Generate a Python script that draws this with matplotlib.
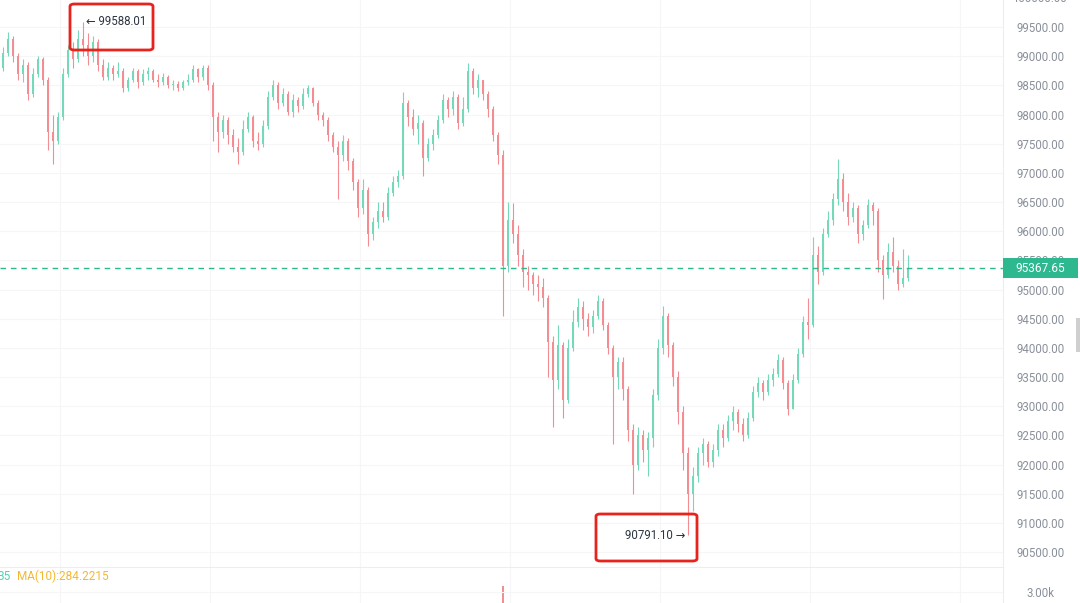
import numpy as np
import matplotlib
matplotlib.use("Agg")
import matplotlib.pyplot as plt
import matplotlib.transforms as mtransforms
from matplotlib.patches import FancyBboxPatch, Rectangle

plt.rcParams['font.family'] = ['Roboto', 'DejaVu Sans']

# ---- data ----
first_open = 98800
closes = [
    99050, 99300, 99000, 98700, 98850, 98350, 98700, 98950, 98600, 97700,
    97550, 97950, 98700, 99100, 98950, 99300, 99200, 99000, 99250, 98850,
    98650, 98800, 98700, 98750, 98450, 98600, 98750, 98550, 98700, 98750,
    98600, 98550, 98650, 98500, 98520, 98450, 98550, 98600, 98780, 98650,
    98800, 98500, 97950, 97700, 97900, 97650, 97450, 97350, 97750, 97950,
    97550, 97500, 97800, 98300, 98500, 98200, 98350, 98050, 98250, 98150,
    98350, 98450, 98200, 98000, 97900, 97650, 97450, 97300, 97550, 97200,
    96850, 96400, 96700, 95950, 96150, 96350, 96250, 96650, 96850, 96950,
    98200, 97950, 97750, 97850, 97250, 97500, 97650, 97900, 98250, 98100,
    98300, 97850, 98100, 98750, 98450, 98600, 98350, 98100, 97650, 97300,
    95400, 96200, 95950, 95600, 95300, 95250, 95100, 95050, 94850, 94100,
    93450, 94050, 93100, 94000, 94450, 94700, 94500, 94350, 94550, 94800,
    94400, 94000, 93500, 93750, 93300, 92600, 92000, 92500, 92250, 92450,
    93200, 94000, 94550, 94050, 93500, 92900, 92200, 91500, 91800, 92200,
    92350, 92050, 92250, 92600, 92450, 92750, 92900, 92700, 92500, 92800,
    93250, 93400, 93250, 93450, 93550, 93800, 93400, 92950, 93450, 93900,
    94450, 94400, 95600, 95300, 95950, 96200, 96550, 96900, 96500, 96250,
    96400, 95950, 96100, 96450, 96350, 95500, 95250, 95650, 95400, 95100,
    95200, 95367.65,
]
highs = [
    99150, 99420, 99350, 99050, 98950, 98900, 98800, 99000, 98980, 98650,
    98000, 98050, 98800, 99200, 99250, 99450, 99588.01, 99400, 99350, 99300,
    98950, 98900, 98850, 98900, 98800, 98650, 98800, 98780, 98780, 98820,
    98780, 98700, 98720, 98680, 98600, 98580, 98600, 98700, 98850, 98800,
    98850, 98850, 98550, 98050, 98000, 97950, 97750, 97600, 97900, 98050,
    98000, 97700, 97900, 98400, 98600, 98550, 98450, 98400, 98350, 98300,
    98450, 98500, 98480, 98250, 98050, 97950, 97700, 97550, 97650, 97600,
    97250, 96900, 96900, 96750, 96250, 96500, 96500, 96750, 96950, 97050,
    98380, 98250, 98100, 98000, 97900, 97600, 97750, 98000, 98350, 98300,
    98400, 98350, 98300, 98880, 98800, 98700, 98600, 98400, 98150, 97700,
    97400, 96500, 96480, 96100, 95700, 95400, 95300, 95250, 95200, 94900,
    94200, 94400, 94100, 94150, 94650, 94850, 94800, 94600, 94650, 94910,
    94850, 94450, 94050, 93850, 93850, 93350, 92700, 92650, 92600, 92550,
    93300, 94150, 94720, 94600, 94100, 93600, 93000, 92300, 91950, 92300,
    92450, 92400, 92350, 92700, 92700, 92850, 93000, 92950, 92800, 92900,
    93350, 93500, 93450, 93550, 93650, 93900, 93850, 93450, 93550, 94000,
    94550, 94850, 95900, 95750, 96050, 96350, 96650, 97230, 97000, 96650,
    96500, 96450, 96200, 96550, 96500, 96400, 95600, 95800, 95900, 95500,
    95700, 95600,
]
lows = [
    98750, 99000, 98900, 98600, 98550, 98250, 98300, 98650, 98500, 97400,
    97150, 97500, 97900, 98650, 98800, 98900, 99000, 98850, 98900, 98750,
    98600, 98600, 98600, 98650, 98380, 98400, 98550, 98450, 98500, 98600,
    98550, 98480, 98500, 98450, 98420, 98400, 98420, 98500, 98550, 98550,
    98600, 98420, 97550, 97350, 97600, 97500, 97350, 97150, 97300, 97700,
    97450, 97400, 97450, 97750, 98250, 98100, 98150, 98000, 97950, 98050,
    98100, 98300, 98150, 97900, 97800, 97550, 97350, 96550, 97200, 97050,
    96700, 96250, 96300, 95750, 95850, 96050, 96150, 96200, 96600, 96750,
    96900, 97800, 97650, 97500, 96950, 97200, 97400, 97600, 97850, 97950,
    98000, 97750, 97800, 98050, 98350, 98300, 98250, 97950, 97550, 97150,
    94550, 95300, 95800, 95400, 95050, 95000, 94900, 94800, 94700, 93500,
    92650, 93300, 92800, 93050, 93950, 94350, 94300, 94200, 94250, 94500,
    94300, 93900, 92350, 93300, 93100, 92400, 91500, 91900, 92050, 91800,
    92300, 93100, 93900, 93850, 93350, 92700, 91900, 90791.10, 91200, 91700,
    92000, 91950, 91950, 92150, 92300, 92400, 92600, 92550, 92400, 92450,
    92750, 93150, 93100, 93200, 93350, 93500, 93300, 92850, 92950, 93400,
    93850, 94150, 94350, 95100, 95250, 95900, 96100, 96450, 96350, 96100,
    96150, 95800, 95850, 96050, 96100, 95300, 94840, 95200, 95300, 95000,
    95050, 95150,
]
price_ticks = np.arange(90500, 99501, 500)
vol_index = [100]
vol_value = [3300]
ma_text = "MA(10):284.2215"

UP = '#74d8b9'
DOWN = '#f38d92'
GRID = '#f6f6f8'
LABEL = '#8a909a'

W, H = 1080, 603
fig = plt.figure(figsize=(W / 100, H / 100), dpi=100)

# price panel: pixel 0..1003 wide, 0..567 tall
ax = fig.add_axes([0, (H - 567) / H, 1003 / W, 567 / H])
closes_a = np.array(closes)
opens_a = np.array([first_open] + closes[:-1])
x = np.arange(len(closes))
up = closes_a >= opens_a
cols = np.where(up, UP, DOWN)

ax.vlines(x, lows, highs, colors=cols, lw=0.8, zorder=3)
body = np.maximum(np.abs(closes_a - opens_a), 20)
ax.bar(x, body, bottom=np.minimum(opens_a, closes_a), width=0.56,
       color=cols, lw=0, zorder=3)

ax.set_xlim(-0.6, 200)
ax.set_ylim(90244, 99963)
ax.set_xticks(np.arange(11.4, 200, 30))
ax.set_xticklabels([])
ax.set_yticks(price_ticks)
ax.set_yticklabels(['%.2f' % t for t in price_ticks])
ax.yaxis.tick_right()
ax.tick_params(axis='y', length=0, pad=27, labelsize=8.3, labelcolor=LABEL)
ax.tick_params(axis='x', length=0)
for t in ax.get_yticklabels():
    t.set_ha('center')
ax.grid(True, color=GRID, lw=0.8, zorder=0)
for s in ['left', 'top', 'bottom']:
    ax.spines[s].set_visible(False)
ax.spines['right'].set_color('#ededed')

# last price line + tag
last = closes[-1]
ax.axhline(last, color='#2eb88f', lw=1, dashes=(4, 3.5), zorder=4)
blend = mtransforms.blended_transform_factory(fig.transFigure, ax.transData)
ax.add_patch(Rectangle((1003 / W, last - 171), 75 / W, 343, transform=blend,
                       facecolor='#2eb88f', edgecolor='none', clip_on=False, zorder=5))
ax.text(1040 / W, last, '%.2f' % last, transform=blend, color='white',
        fontsize=8.5, ha='center', va='center', zorder=6)

# hi / lo annotations
i_hi = int(np.argmax(highs))
i_lo = int(np.argmin(lows))
ax.text(i_hi + 0.5, highs[i_hi], '\u2190 %.2f' % highs[i_hi], fontsize=8.3,
        color='#2c3440', ha='left', va='center', zorder=6)
ax.text(i_lo - 0.5, lows[i_lo], '%.2f \u2192' % lows[i_lo], fontsize=8.3,
        color='#2c3440', ha='right', va='center', zorder=6)

# partly hidden top label
fig.text(1039 / W, 1 + 1 / H, '100000.00', fontsize=8.3, color=LABEL,
         ha='center', va='center')

# volume panel (extends below the picture)
vax = fig.add_axes([0, -37 / H, 1003 / W, 73 / H])
vax.bar(vol_index, vol_value, width=0.56, color=DOWN, lw=0)
vax.set_xlim(-0.6, 200)
vax.set_ylim(600, 4250)
vax.set_xticks(np.arange(11.4, 200, 30))
vax.set_xticklabels([])
vax.set_yticks([3000])
vax.set_yticklabels(['3.00k'])
vax.yaxis.tick_right()
vax.tick_params(axis='y', length=0, pad=27, labelsize=8.3, labelcolor=LABEL)
vax.tick_params(axis='x', length=0)
for t in vax.get_yticklabels():
    t.set_ha('center')
vax.grid(True, color=GRID, lw=0.8, zorder=0)
for s in ['left', 'bottom']:
    vax.spines[s].set_visible(False)
vax.spines['top'].set_color('#ededed')
vax.spines['right'].set_color('#ededed')

fig.text(11 / W, 1 - 576 / H, '35', fontsize=8.5, color='#4fd1b2',
         ha='right', va='center')
fig.text(17 / W, 1 - 576 / H, ma_text, fontsize=8.5, color='#f5b731',
         ha='left', va='center')

# red highlight boxes
for (x0, y0, x1, y1) in [(70, 4, 153, 50), (596, 514, 697, 561)]:
    fig.patches.append(FancyBboxPatch(
        (x0 / W, 1 - y1 / H), (x1 - x0) / W, (y1 - y0) / H,
        boxstyle='round,pad=0,rounding_size=0.004', transform=fig.transFigure,
        fill=False, edgecolor='#e8231c', lw=2.0, zorder=10))

# scroll handle at the right edge
fig.patches.append(Rectangle((1076 / W, 1 - 352 / H), 4 / W, 34 / H,
                             transform=fig.transFigure, facecolor='#cfcfcf',
                             edgecolor='none'))

fig.savefig('out.png', dpi=100)
